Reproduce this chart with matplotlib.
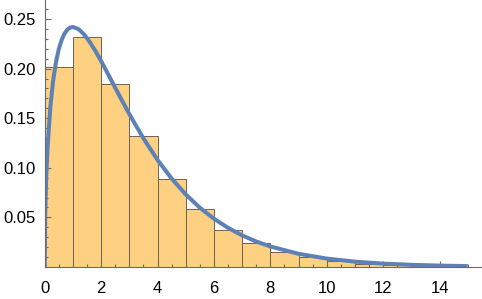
import numpy as np
import matplotlib.pyplot as plt
from matplotlib.ticker import MultipleLocator, FormatStrFormatter

plt.rcParams['font.family'] = ['Liberation Sans', 'DejaVu Sans']

# histogram bins (width 1) and bar heights
bin_edges = list(range(0, 16))
bar_heights = [0.202, 0.2315, 0.184, 0.132, 0.089, 0.058, 0.037, 0.024,
               0.015, 0.0105, 0.0065, 0.003, 0.002, 0.0017, 0.0005]

# density curve, points
curve_x = [0, 0.02, 0.05, 0.1, 0.2, 0.3, 0.4, 0.5, 0.6, 0.7, 0.8, 0.9, 1.0,
           1.2, 1.4, 1.6, 1.8, 2.0, 2.25, 2.5, 2.75, 3.0, 3.5, 4.0, 4.5,
           5.0, 5.5, 6.0, 6.5, 7.0, 7.5, 8.0, 9.0, 10, 11, 12, 13, 14, 15]
curve_y = [0, 0.0559, 0.0870, 0.1200, 0.1614, 0.1881, 0.2066, 0.2197, 0.2289,
           0.2352, 0.2392, 0.2413, 0.2420, 0.2398, 0.2344, 0.2267, 0.2176,
           0.2076, 0.1943, 0.1807, 0.1673, 0.1542, 0.1297, 0.1080, 0.0892,
           0.0732, 0.0598, 0.0487, 0.0395, 0.0319, 0.0257, 0.0207, 0.0133,
           0.0085, 0.0054, 0.0034, 0.0022, 0.0014, 0.0009]

fig = plt.figure(figsize=(4.82, 2.99), dpi=100)
ax = fig.add_axes([44.7 / 482, 32 / 299, 1 - 44.7 / 482, 267 / 299])

ax.bar(bin_edges[:-1], bar_heights, width=1, align='edge',
       color='#fdd082', edgecolor='#6e6256', linewidth=0.7, zorder=1)
ax.plot(curve_x, curve_y, color='#5e81b5', linewidth=2.9,
        solid_capstyle='butt', zorder=3)

ax.set_xlim(0, (482 - 44.7) / 28.2)
ax.set_ylim(0, 267 / 992)

for s in ['top', 'right']:
    ax.spines[s].set_visible(False)
for s in ['left', 'bottom']:
    ax.spines[s].set_color('#6b6b6b')
    ax.spines[s].set_linewidth(0.8)
    ax.spines[s].set_zorder(4)

ax.xaxis.set_major_locator(MultipleLocator(2))
ax.xaxis.set_minor_locator(MultipleLocator(0.5))
ax.set_yticks([0.05, 0.10, 0.15, 0.20, 0.25])
ax.yaxis.set_minor_locator(MultipleLocator(0.01))
ax.yaxis.set_major_formatter(FormatStrFormatter('%.2f'))

ax.tick_params(which='both', direction='in', color='#6b6b6b', width=0.8,
               labelsize=12, labelcolor='black')
ax.tick_params(which='major', length=4.5)
ax.tick_params(which='minor', length=2.5)
ax.tick_params(axis='x', pad=10)
ax.tick_params(axis='y', pad=6.5)

fig.savefig('out.png', dpi=100)
